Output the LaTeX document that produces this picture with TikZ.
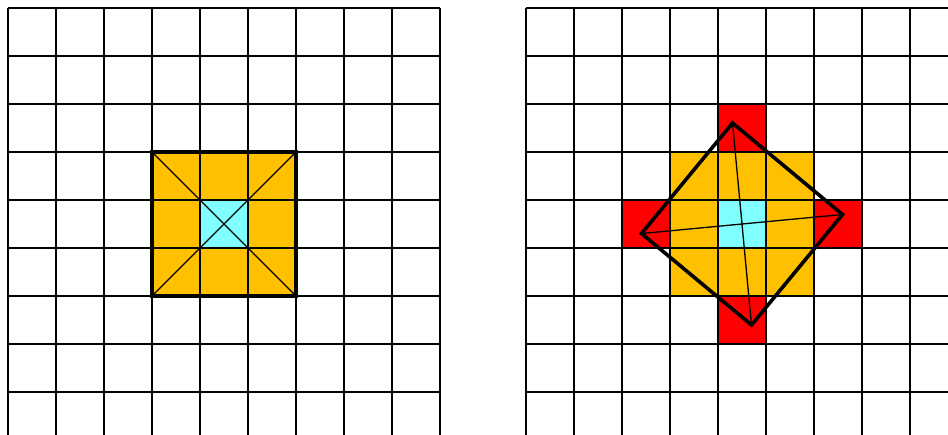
\documentclass[tikz,border=0pt]{standalone}
\definecolor{orng}{RGB}{255,192,0}
\definecolor{cyn}{RGB}{128,255,255}
\definecolor{rd}{RGB}{255,0,0}
\tikzset{
  gridline/.style={line width=1.4pt, black},
  thickbox/.style={line width=3.6pt, black, line join=miter},
  diag/.style={line width=1.3pt, black}
}
\begin{document}
\begin{tikzpicture}[x=1pt,y=-1pt]
\useasboundingbox (0,0) rectangle (948,434);
\clip (0,0) rectangle (948,434);
% ---- left panel fills
\fill[orng] (152,152) rectangle (296,296);
\fill[cyn] (200,200) rectangle (248,248);
% ---- right panel fills
\fill[rd] (718,104) rectangle (766,152);
\fill[rd] (622,200) rectangle (670,248);
\fill[rd] (814,200) rectangle (862,248);
\fill[rd] (718,296) rectangle (766,344);
\fill[orng] (670,152) rectangle (814,296);
\fill[cyn] (718,200) rectangle (766,248);
% ---- grids
\foreach \i in {0,...,9} \draw[gridline] (8+48*\i,8) -- (8+48*\i,440);
\foreach \j in {0,...,9} \draw[gridline] (8,8+48*\j) -- (440,8+48*\j);
\foreach \i in {0,...,9} \draw[gridline] (526+48*\i,8) -- (526+48*\i,440);
\foreach \j in {0,...,9} \draw[gridline] (526,8+48*\j) -- (960,8+48*\j);
% ---- left square
\coordinate (a1) at (152,152);
\coordinate (a2) at (296,152);
\coordinate (a3) at (296,296);
\coordinate (a4) at (152,296);
\draw[diag] (a1) -- (a3);
\draw[diag] (a2) -- (a4);
\draw[thickbox] (a1) -- (a2) -- (a3) -- (a4) -- cycle;
% ---- right rotated square
\coordinate (b1) at (732.5,123);
\coordinate (b2) at (842.5,214.5);
\coordinate (b3) at (751.5,325);
\coordinate (b4) at (641.5,233.5);
\draw[diag] (b1) -- (b3);
\draw[diag] (b2) -- (b4);
\draw[thickbox] (b1) -- (b2) -- (b3) -- (b4) -- cycle;
\end{tikzpicture}
\end{document}
